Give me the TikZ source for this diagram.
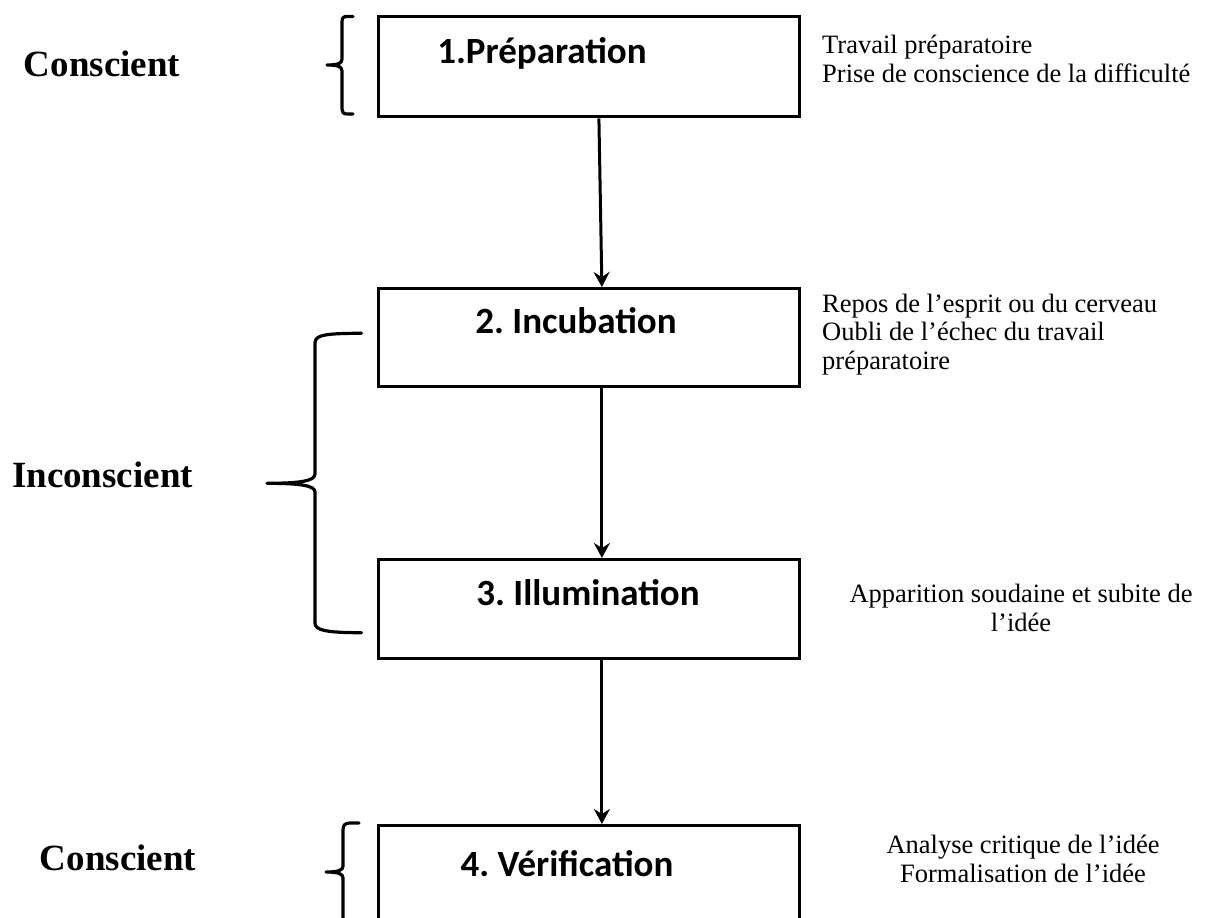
\documentclass[tikz,border=0pt]{standalone}
\usepackage{fontspec}
\setmainfont{Liberation Serif}
\newfontfamily\boxfont{Carlito}
\usetikzlibrary{arrows.meta}
\frenchspacing
\begin{document}
\begin{tikzpicture}[x=1pt,y=-1pt,
  stagebox/.style={draw,line width=3.3pt,minimum width=421.5pt,inner sep=0pt,anchor=north west},
  stagetitle/.style={font=\boxfont\bfseries\fontsize{37}{44}\selectfont,anchor=base,inner sep=0pt},
  sidetext/.style={font=\fontsize{26.5}{28.5}\selectfont,inner sep=0pt},
  statelabel/.style={font=\bfseries\fontsize{37}{44}\selectfont,anchor=base,inner sep=0pt},
  arr/.style={line width=3pt,-{Stealth[length=15pt,width=16pt,inset=5pt]}},
  brace/.style={line width=3.2pt,line cap=round,line join=round}]
\useasboundingbox (0,0) rectangle (1205,918);
\clip (0,0) rectangle (1205,918);
% boxes
\node[stagebox,minimum height=100pt] (b1) at (376.5,15) {};
\node[stagebox,minimum height=98pt] (b2) at (376.5,287) {};
\node[stagebox,minimum height=99pt] (b3) at (376.5,558) {};
\node[stagebox,minimum height=110pt] (b4) at (376.5,824) {};
% titles
\node[stagetitle] (t1) at (542,63) {1.Préparation};
\node[stagetitle] (t2) at (576,333) {2. Incubation};
\node[stagetitle] (t3) at (588,605) {3. Illumination};
\node[stagetitle] (t4) at (567,876) {4. Vérification};
% arrows
\draw[arr] ([xshift=10pt]b1.south) -- ([xshift=13pt]b2.north);
\draw[arr] ([xshift=13pt]b2.south) -- ([xshift=13pt]b3.north);
\draw[arr] ([xshift=13pt]b3.south) -- ([xshift=13pt]b4.north);
% side texts
\node[sidetext,anchor=base west,align=left] (s1) at (822,82) {Travail préparatoire\\Prise de conscience de la difficulté};
\node[sidetext,anchor=base west,align=left] (s2) at (822,369) {Repos de l’esprit ou du cerveau\\Oubli de l’échec du travail\\préparatoire};
\node[sidetext,anchor=base,align=center] (s3) at (1021,631) {Apparition soudaine et subite de\\l’idée};
\node[sidetext,anchor=base,align=center] (s4) at (1023,882) {Analyse critique de l’idée\\Formalisation de l’idée};
% state labels
\node[statelabel] (l1) at (102,76) {Conscient};
\node[statelabel] (l2) at (102.5,487) {Inconscient};
\node[statelabel] (l3) at (118,870) {Conscient};
% braces
\draw[brace] (353,16.5) -- (347,16.5) .. controls (343,16.5) and (342,18) .. (342,22) -- (342,59)
  .. controls (342,63) and (339,65) .. (327,65) .. controls (339,65) and (342,67) .. (342,71)
  -- (342,109) .. controls (342,112) and (343,114) .. (347,114) -- (353,114);
\draw[brace] (361.5,333.3) .. controls (325,333.3) and (315,335) .. (315,343) -- (315,474)
  .. controls (315,481) and (300,483.3) .. (267,483.3) .. controls (300,483.3) and (315,485.5) .. (315,492)
  -- (315,623) .. controls (315,630) and (325,632.7) .. (361.5,632.7);
\draw[brace] (359,823) -- (350,823) .. controls (345,823) and (343,825) .. (343,830) -- (343,866)
  .. controls (343,870) and (339,872) .. (326,872) .. controls (339,872) and (343,874) .. (343,878)
  -- (343,930);
\end{tikzpicture}
\end{document}
